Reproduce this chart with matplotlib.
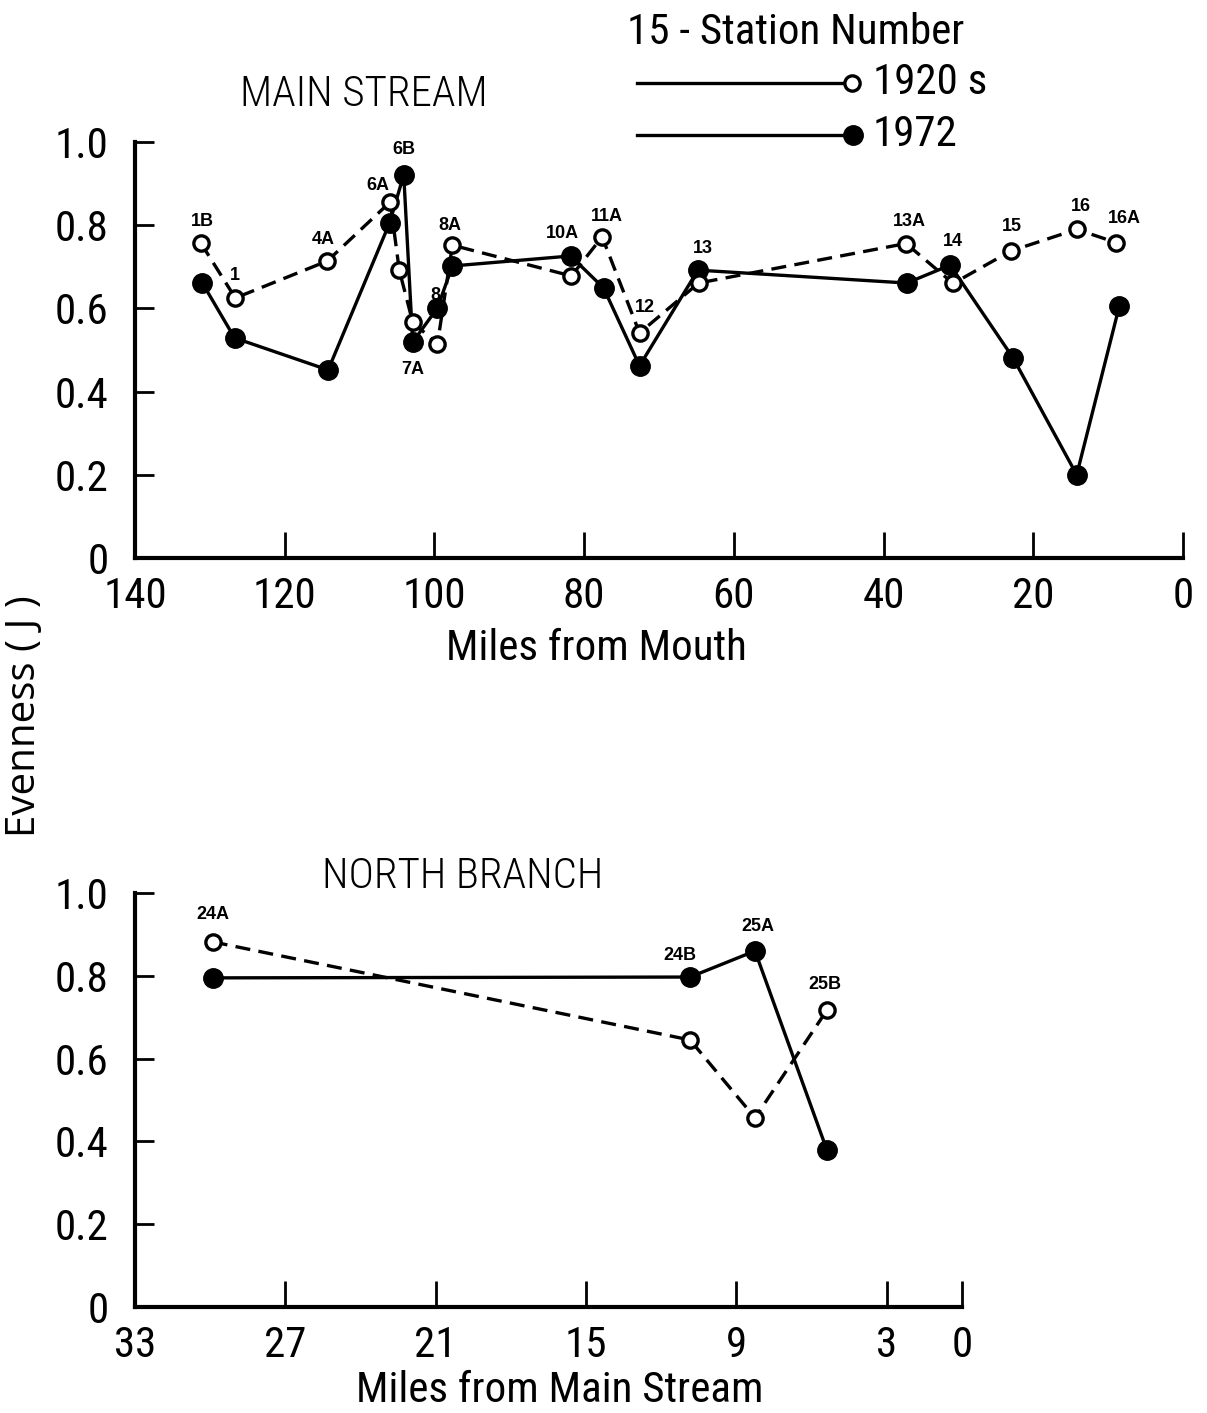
import matplotlib
matplotlib.use("Agg")
import matplotlib.pyplot as plt
from matplotlib.lines import Line2D

COND = ['Roboto Condensed', 'Open Sans Condensed', 'Liberation Sans Narrow', 'DejaVu Sans']
plt.rcParams['font.family'] = COND

# --- Main stream, 1920s (open circles) ---
main_1920_miles = [131.2, 126.6, 114.3, 105.9, 104.7, 102.9, 99.6, 97.6, 81.7, 77.6, 72.6, 64.7, 37.0, 30.7, 23.0, 14.2, 8.9]
main_1920_even = [0.757, 0.625, 0.714, 0.856, 0.692, 0.567, 0.514, 0.752, 0.678, 0.772, 0.541, 0.661, 0.756, 0.660, 0.738, 0.790, 0.758]

# --- Main stream, 1972 (filled circles) ---
main_1972_miles = [131.0, 126.7, 114.2, 106.0, 104.1, 102.9, 99.6, 97.6, 81.8, 77.4, 72.6, 64.8, 36.9, 31.1, 22.7, 14.2, 8.5]
main_1972_even = [0.661, 0.529, 0.452, 0.805, 0.921, 0.519, 0.601, 0.702, 0.726, 0.649, 0.462, 0.692, 0.661, 0.704, 0.481, 0.200, 0.606]

# station labels for the main stream and where they sit (data coords)
main_labels = ['1B', '1', '4A', '6A', '6B', '7A', '8', '8A', '10A', '11A', '12', '13', '13A', '14', '15', '16', '16A']
main_label_x = [131.0, 126.6, 114.9, 107.6, 104.1, 102.9, 99.9, 97.9, 82.9, 77.0, 71.9, 64.2, 36.5, 30.7, 22.9, 13.6, 7.8]
main_label_y = [0.808, 0.680, 0.765, 0.896, 0.981, 0.452, 0.632, 0.800, 0.780, 0.820, 0.603, 0.743, 0.808, 0.760, 0.796, 0.844, 0.817]

# --- North branch ---
north_miles = [29.9, 10.85, 8.26, 5.39]
north_1920_even = [0.882, 0.645, 0.457, 0.717]
north_1972_even = [0.795, 0.797, 0.860, 0.379]
north_labels = ['24A', '24B', '25A', '25B']
north_label_x = [29.9, 11.25, 8.14, 5.47]
north_label_y = [0.947, 0.850, 0.918, 0.778]

W, H = 1207, 1413
fig = plt.figure(figsize=(W / 100, H / 100), dpi=100)


def fx(px):
    return px / W


def fy(py):
    return 1 - py / H


ax1 = fig.add_axes([fx(135), fy(558), fx(1183) - fx(135), fy(142) - fy(558)])
ax2 = fig.add_axes([fx(135), fy(1307), fx(962) - fx(135), fy(893) - fy(1307)])

tick_fs = 31
lbl_fs = 31
stn_fs = 13
LW = 2.4
STN_FONT = ['Liberation Sans', 'DejaVu Sans']


def style_axes(ax):
    for s in ['top', 'right']:
        ax.spines[s].set_visible(False)
    for s in ['left', 'bottom']:
        ax.spines[s].set_linewidth(3)
    ax.tick_params(direction='in', width=2, labelsize=tick_fs)
    ax.tick_params(axis='y', length=14, pad=19)
    ax.tick_params(axis='x', length=19, pad=13)
    ax.set_ylim(0, 1.0)
    ax.set_yticks([0, 0.2, 0.4, 0.6, 0.8, 1.0])
    ax.set_yticklabels(['0', '0.2', '0.4', '0.6', '0.8', '1.0'])


def draw_series(ax, x_old, y_old, x_new, y_new):
    # 1972: solid line, filled dots; 1920s: dashed line, open dots
    ax.plot(x_new, y_new, '-', color='black', lw=LW, marker='o', markersize=14,
            markerfacecolor='black', markeredgecolor='black', zorder=3, clip_on=False)
    ax.plot(x_old, y_old, color='black', lw=LW, linestyle=(0, (4.5, 2.5)), marker='o',
            markersize=11, markerfacecolor='white', markeredgecolor='black',
            markeredgewidth=LW, zorder=4, clip_on=False)


# top panel
style_axes(ax1)
ax1.set_xlim(140, 0)
ax1.set_xticks([140, 120, 100, 80, 60, 40, 20, 0])
draw_series(ax1, main_1920_miles, main_1920_even, main_1972_miles, main_1972_even)
for name, lx, ly in zip(main_labels, main_label_x, main_label_y):
    ax1.text(lx, ly, name, ha='center', va='center', fontsize=stn_fs, fontweight='bold',
             family=STN_FONT)

# bottom panel
style_axes(ax2)
ax2.set_xlim(33, 0)
ax2.set_xticks([33, 27, 21, 15, 9, 3, 0])
draw_series(ax2, north_miles, north_1920_even, north_miles, north_1972_even)
for name, lx, ly in zip(north_labels, north_label_x, north_label_y):
    ax2.text(lx, ly, name, ha='center', va='center', fontsize=stn_fs, fontweight='bold',
             family=STN_FONT)

# axis titles
fig.text(fx(596), fy(648), 'Miles from Mouth', fontsize=lbl_fs, ha='center', va='center')
fig.text(fx(560), fy(1390), 'Miles from Main Stream', fontsize=lbl_fs, ha='center', va='center')
fig.text(fx(25), fy(716), 'Evenness ( J )', rotation=90, fontsize=29, ha='center', va='center',
         family=['Open Sans', 'DejaVu Sans'])

# panel titles
fig.text(fx(364), fy(94), 'MAIN STREAM', fontsize=lbl_fs, ha='center', va='center', fontweight='light')
fig.text(fx(463), fy(876), 'NORTH BRANCH', fontsize=lbl_fs, ha='center', va='center', fontweight='light')

# legend block
fig.text(fx(627), fy(32), '15 - Station Number', fontsize=lbl_fs, ha='left', va='center')
fig.add_artist(Line2D([fx(637), fx(850)], [fy(83), fy(83)], color='black', lw=LW))
fig.add_artist(Line2D([fx(852)], [fy(83)], marker='o', markersize=11, markerfacecolor='white',
                      markeredgecolor='black', markeredgewidth=LW, color='black'))
fig.text(fx(873), fy(83), '1920 s', fontsize=lbl_fs, ha='left', va='center')
fig.add_artist(Line2D([fx(637), fx(850)], [fy(135), fy(135)], color='black', lw=LW))
fig.add_artist(Line2D([fx(853)], [fy(135)], marker='o', markersize=14, markerfacecolor='black',
                      markeredgecolor='black', color='black'))
fig.text(fx(873), fy(135), '1972', fontsize=lbl_fs, ha='left', va='center')

fig.savefig('out.png', dpi=100)
